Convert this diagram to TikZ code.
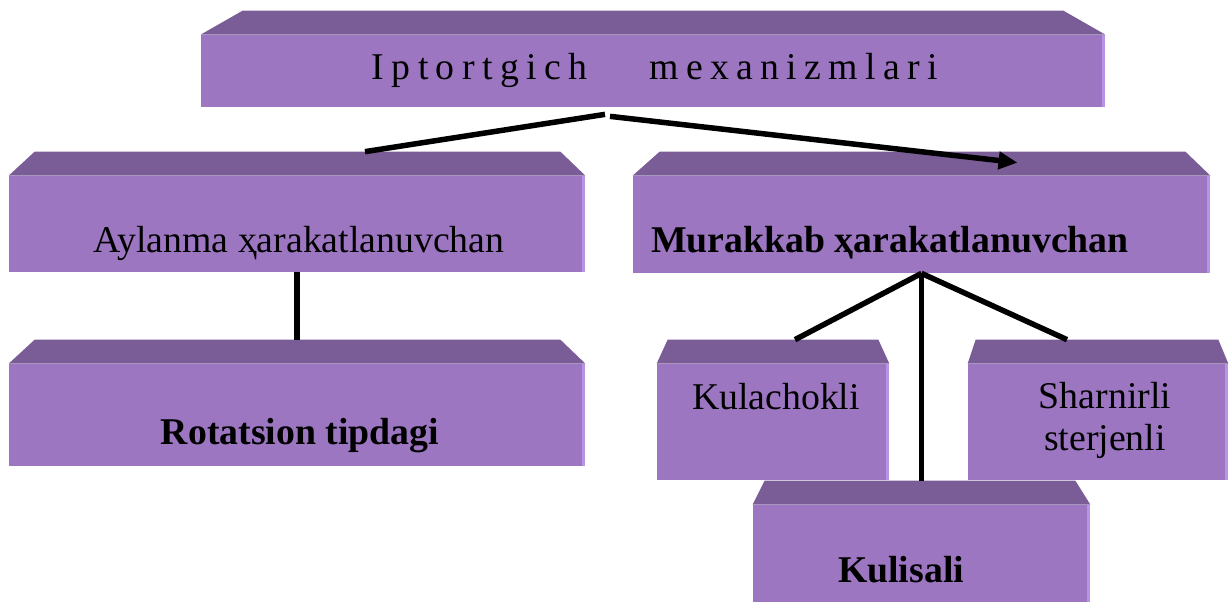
\documentclass[tikz,border=0pt]{standalone}
\usepackage{fontspec}
\setmainfont{Liberation Serif}
\usetikzlibrary{arrows.meta,calc}
\definecolor{slabface}{HTML}{9D76C2}
\definecolor{slabroof}{HTML}{7A5C96}
\definecolor{slabrim}{HTML}{B994E6}
\newdimen\pxu \pxu=0.02cm
\tikzset{
  slab/.style={
    fill=slabface,
    draw=none,
    inner sep=0pt
  },
  slabtext/.style={
    font=\fontsize{21.5}{24}\selectfont,
    align=center,
    text=black,
    inner sep=0pt
  },
  slabbold/.style={
    slabtext,
    font=\fontsize{21.5}{24}\selectfont\bfseries
  },
  link/.style={
    line width=5.5\pxu,
    draw=black
  },
  arrow/.style={
    link,
    -{Triangle[length=0.38cm,width=0.34cm]}
  }
}
% roof of a slab: node, left inset, right inset
\newcommand\slabcap[3]{%
  \fill[slabroof] (#1.north west) -- ($(#1.north west)+(#2,-24)$) -- ($(#1.north east)+(-#3,-24)$) -- (#1.north east) -- cycle;
  \draw[slabrim, line width=3\pxu] ([xshift=-1.5\pxu]#1.north east) -- ([xshift=-1.5\pxu]#1.south east);
  \coordinate (#1-cap) at ($(#1.north)+(0,-24)$);
}
\begin{document}
\begin{tikzpicture}[x=0.02cm, y=-0.02cm]
\useasboundingbox (0,0) rectangle (1230,602);
% slabs
\node[slab, minimum width=904\pxu, minimum height=72\pxu] (top) at (653,71) {};
\node[slab, minimum width=576\pxu, minimum height=96\pxu] (aylanma) at (297,224) {};
\node[slab, minimum width=577\pxu, minimum height=97\pxu] (murakkab) at (921.5,224.5) {};
\node[slab, minimum width=576\pxu, minimum height=102\pxu] (rotatsion) at (297,415) {};
\node[slab, minimum width=232\pxu, minimum height=116\pxu] (kulachokli) at (773,422) {};
\node[slab, minimum width=260\pxu, minimum height=116\pxu] (sharnirli) at (1098,422) {};
\node[slab, minimum width=337\pxu, minimum height=97\pxu] (kulisali) at (921.5,553.5) {};
\slabcap{top}{42}{42}
\slabcap{aylanma}{26}{25}
\slabcap{murakkab}{27}{25}
\slabcap{rotatsion}{26}{25}
\slabcap{kulachokli}{11}{11}
\slabcap{sharnirli}{8}{10}
\slabcap{kulisali}{12}{15}
% texts
\node[slabtext] (top-text) at (655,70) {\addfontfeature{LetterSpace=19.5}Iptortgich\hspace{1.2em} mexanizmlari};
\node[slabtext] (aylanma-text) at (299,243) {Aylanma ҳarakatlanuvchan};
\node[slabbold] (murakkab-text) at (890,243) {Murakkab ҳarakatlanuvchan};
\node[slabbold] (rotatsion-text) at (300,436) {Rotatsion tipdagi};
\node[slabtext] (kulachokli-text) at (776,397) {Kulachokli};
\node[slabtext] (sharnirli-text) at (1105,420) {Sharnirli\\sterjenli};
\node[slabbold] (kulisali-text) at (901,570) {Kulisali};
% connectors
\draw[link] ($(top.south)+(-48,7)$) -- ($(aylanma-cap)+(68,0)$);
\draw[arrow] ($(top.south)+(-43,9)$) -- ($(murakkab-cap)+(96,11)$);
\draw[link] (aylanma.south) -- (rotatsion-cap);
\draw[link] (murakkab.south) -- ($(kulachokli-cap)+(22,0)$);
\draw[link] (murakkab.south) -- (kulisali-cap);
\draw[link] (murakkab.south) -- ($(sharnirli-cap)+(-31,0)$);
\end{tikzpicture}
\end{document}
